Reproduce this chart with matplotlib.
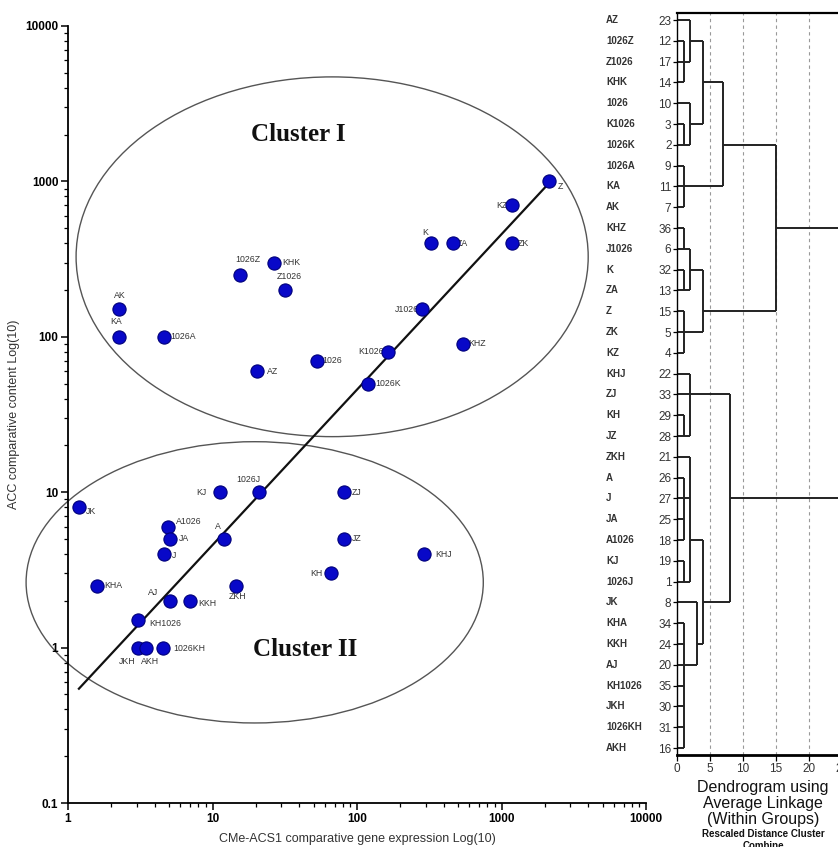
import numpy as np
import matplotlib.pyplot as plt
from matplotlib.patches import Ellipse
from matplotlib.ticker import FixedLocator, FixedFormatter, LogLocator, NullFormatter

plt.rcParams['font.family'] = ['Liberation Sans', 'DejaVu Sans']

# scatter data
names = ['Z', 'KZ', 'K', 'ZA', 'ZK', 'J1026', 'KHZ', 'K1026', '1026K', '1026', 'AZ',
         '1026Z', 'KHK', 'Z1026', 'AK', 'KA', '1026A',
         'JK', 'KJ', '1026J', 'ZJ', 'A1026', 'JA', 'A', 'J', 'JZ', 'KH', 'KHJ',
         'KHA', 'ZKH', 'AJ', 'KKH', 'KH1026', 'JKH', 'AKH', '1026KH']
gene_expr = [2130, 1180, 325, 460, 1180, 282, 540, 164, 119, 53, 20.3,
             15.5, 26.6, 31.8, 2.25, 2.25, 4.6,
             1.19, 11.3, 21, 81, 4.9, 5.1, 12, 4.6, 81, 66, 290,
             1.6, 14.5, 5.1, 7.0, 3.05, 3.05, 3.47, 4.55]
acc_content = [1000, 700, 400, 400, 400, 150, 90, 80, 50, 70, 60,
               250, 300, 200, 150, 100, 100,
               8, 10, 10, 10, 6, 5, 5, 4, 5, 3, 4,
               2.5, 2.5, 2, 2, 1.5, 1, 1, 1]

# fitted line in log10 space
fit_slope = 1.0
fit_intercept = -0.34

x_ticks = [1, 10, 100, 1000, 10000]
y_ticks = [0.1, 1, 10, 100, 1000, 10000]

# dendrogram data
leaves = ['AZ', '1026Z', 'Z1026', 'KHK', '1026', 'K1026', '1026K', '1026A', 'KA', 'AK',
          'KHZ', 'J1026', 'K', 'ZA', 'Z', 'ZK', 'KZ',
          'KHJ', 'ZJ', 'KH', 'JZ', 'ZKH', 'A', 'J', 'JA', 'A1026', 'KJ', '1026J', 'JK',
          'KHA', 'KKH', 'AJ', 'KH1026', 'JKH', '1026KH', 'AKH']
case_ids = [23, 12, 17, 14, 10, 3, 2, 9, 11, 7, 36, 6, 32, 13, 15, 5, 4,
            22, 33, 29, 28, 21, 26, 27, 25, 18, 19, 1, 8, 34, 24, 20, 35, 30, 31, 16]
merges = [
    ('m1', ['1026Z', 'Z1026', 'KHK'], 1),
    ('m2', ['AZ', 'm1'], 2),
    ('m3', ['K1026', '1026K'], 1),
    ('m4', ['1026', 'm3'], 2),
    ('m5', ['m2', 'm4'], 4),
    ('m6', ['1026A', 'KA', 'AK'], 1),
    ('m7', ['m5', 'm6'], 7),
    ('m8', ['KHZ', 'J1026'], 1),
    ('m9', ['K', 'ZA'], 1),
    ('m10', ['m8', 'm9'], 2),
    ('m11', ['Z', 'ZK', 'KZ'], 1),
    ('m12', ['m10', 'm11'], 4),
    ('m13', ['m7', 'm12'], 15),
    ('m14', ['KH', 'JZ'], 1),
    ('m15', ['KHJ', 'ZJ', 'm14'], 2),
    ('m16', ['A', 'J', 'JA', 'A1026'], 1),
    ('m17', ['KJ', '1026J'], 1),
    ('m18', ['ZKH', 'm16', 'm17'], 2),
    ('m19', ['KHA', 'KKH', 'AJ', 'KH1026', 'JKH', '1026KH', 'AKH'], 1),
    ('m20', ['JK', 'm19'], 3),
    ('m21', ['m18', 'm20'], 4),
    ('m22', ['m15', 'm21'], 8),
    ('m23', ['m13', 'm22'], 25),
]
# row on which each merged cluster is drawn
merge_rows = [2, 1, 6, 5, 3, 8, 6, 11, 13, 12, 15, 14, 10,
              20, 18, 23, 27, 25, 31, 30, 28, 23, 16.5]

# label placement: (dx, dy) in points and alignment
label_pos = {
    'Z': (6, -4, 'left'), 'KZ': (-3, 0, 'right'), 'K': (-4, 8, 'center'),
    'ZA': (3, 0, 'left'), 'ZK': (4, 0, 'left'), 'J1026': (-2, 0, 'right'),
    'KHZ': (4, 0, 'left'), 'K1026': (-3, 0, 'right'), '1026K': (5, 0, 'left'),
    '1026': (4, 0, 'left'), 'AZ': (7, 0, 'left'), '1026Z': (6, 11, 'center'),
    'KHK': (6, 0, 'left'), 'Z1026': (3, 10, 'center'), 'AK': (1, 10, 'center'),
    'KA': (-2, 11, 'center'), '1026A': (5, 0, 'left'),
    'JK': (5, -3, 'left'), 'KJ': (-10, 0, 'right'), '1026J': (-8, 9, 'center'),
    'ZJ': (6, 0, 'left'), 'A1026': (6, 4, 'left'), 'JA': (6, 0, 'left'),
    'A': (-4, 9, 'center'), 'J': (6, -1, 'left'), 'JZ': (6, 0, 'left'),
    'KH': (-6, 0, 'right'), 'KHJ': (8, 0, 'left'), 'KHA': (5, 0, 'left'),
    'ZKH': (1, -8, 'center'), 'AJ': (-12, 6, 'center'), 'KKH': (6, -2, 'left'),
    'KH1026': (8, -2, 'left'), 'JKH': (-8, -10, 'center'), 'AKH': (3, -10, 'center'),
    '1026KH': (7, -1, 'left'),
}

W, H = 838, 847
fig = plt.figure(figsize=(W / 100, H / 100), dpi=100)

# ---------------- scatter ----------------
ax = fig.add_axes([68 / W, 1 - 803 / H, 578 / W, 777 / H])
ax.set_xscale('log')
ax.set_yscale('log')
ax.set_xlim(1, 10000)
ax.set_ylim(0.1, 10000)

ax.plot(gene_expr, acc_content, 'o', ms=9.5, mfc='#0808c8', mec='#00007a', mew=0.8, zorder=3)

xs = np.array([min(gene_expr), max(gene_expr)])
ax.plot(xs, 10 ** fit_intercept * xs ** fit_slope, '-', color='#111111', lw=1.6, zorder=2)

for n, x, y in zip(names, gene_expr, acc_content):
    dx, dy, ha = label_pos[n]
    ax.annotate(n, (x, y), xytext=(dx, dy), textcoords='offset points',
                ha=ha, va='center', fontsize=6.3, color='#333333', zorder=2)

ax.add_patch(Ellipse((0.457, 0.703), 0.886, 0.463, transform=ax.transAxes,
                     fill=False, ec='#555555', lw=1.0, clip_on=False))
ax.add_patch(Ellipse((0.323, 0.284), 0.791, 0.362, transform=ax.transAxes,
                     fill=False, ec='#555555', lw=1.0, clip_on=False))

ax.text(0.398, 0.861, 'Cluster I', transform=ax.transAxes, ha='center', va='center',
        fontsize=18, fontweight='bold', family='Liberation Serif', color='#111111')
ax.text(0.410, 0.197, 'Cluster II', transform=ax.transAxes, ha='center', va='center',
        fontsize=18, fontweight='bold', family='Liberation Serif', color='#111111')

for s in ['top', 'right']:
    ax.spines[s].set_visible(False)
for s in ['left', 'bottom']:
    ax.spines[s].set_linewidth(1.3)
ax.xaxis.set_major_locator(FixedLocator(x_ticks))
ax.xaxis.set_major_formatter(FixedFormatter([str(v) for v in x_ticks]))
ax.yaxis.set_major_locator(FixedLocator(y_ticks))
ax.yaxis.set_major_formatter(FixedFormatter(['0.1', '1', '10', '100', '1000', '10000']))
for a in (ax.xaxis, ax.yaxis):
    a.set_minor_locator(LogLocator(base=10, subs=np.arange(2, 10)))
    a.set_minor_formatter(NullFormatter())
ax.tick_params(which='major', direction='out', length=5, width=1.1, labelsize=8.5, pad=2)
ax.tick_params(which='minor', direction='out', length=3, width=0.9)
for t in ax.get_xticklabels() + ax.get_yticklabels():
    t.set_fontweight('bold')

ax.set_xlabel('CMe-ACS1 comparative gene expression Log(10)', fontsize=9, color='#333333')
ax.set_ylabel('ACC comparative content Log(10)', fontsize=9, color='#333333')
ax.xaxis.set_label_coords(0.5, -(833 - 803) / 777)
ax.yaxis.set_label_coords((20 - 68) / 578, 0.5)

# ---------------- dendrogram ----------------
px_unit = 6.6
dax = fig.add_axes([677 / W, 1 - 755 / H, 26 * px_unit / W, (755 - 13) / H])
dax.set_xlim(0, 26)
dax.set_ylim(35 + 7 / 20.8, -7 / 20.8)

row_of = {n: i for i, n in enumerate(leaves)}
height_of = {n: 0 for n in leaves}
for (name, children, h), r in zip(merges, merge_rows):
    rows = [row_of[c] for c in children]
    for c in children:
        dax.plot([height_of[c], h], [row_of[c], row_of[c]], color='#222222', lw=1.4,
                 solid_capstyle='butt', clip_on=False)
    dax.plot([h, h], [min(rows), max(rows)], color='#222222', lw=1.4,
             solid_capstyle='butt', clip_on=False)
    row_of[name] = r
    height_of[name] = h

for g in [5, 10, 15, 20]:
    dax.axvline(g, color='#999999', lw=0.8, ls=(0, (3, 3)), zorder=0)

dax.spines['right'].set_visible(False)
dax.spines['top'].set_linewidth(1.6)
dax.spines['bottom'].set_linewidth(2.0)
dax.spines['left'].set_linewidth(1.0)
dax.set_yticks(range(len(leaves)))
dax.set_yticklabels([str(c) for c in case_ids])
dax.set_xticks([0, 5, 10, 15, 20, 25])
dax.tick_params(axis='y', length=3, width=0.9, labelsize=8.5, pad=1, labelcolor='#333333')
dax.tick_params(axis='x', length=4, width=0.9, labelsize=8.5, pad=2, labelcolor='#333333')

for i, n in enumerate(leaves):
    dax.text(-10.76, i, n, ha='left', va='center', fontsize=7, fontweight='bold',
             color='#333333', clip_on=False)

fig.text(763 / W, 1 - 787 / H, 'Dendrogram using', ha='center', va='center', fontsize=11.5, color='#111111')
fig.text(763 / W, 1 - 803 / H, 'Average Linkage', ha='center', va='center', fontsize=11.5, color='#111111')
fig.text(763 / W, 1 - 819 / H, '(Within Groups)', ha='center', va='center', fontsize=11.5, color='#111111')
fig.text(763 / W, 1 - 834 / H, 'Rescaled Distance Cluster', ha='center', va='center', fontsize=7,
         fontweight='bold', color='#111111')
fig.text(763 / W, 1 - 846 / H, 'Combine', ha='center', va='center', fontsize=7,
         fontweight='bold', color='#111111')

fig.savefig('out.png', dpi=100)
